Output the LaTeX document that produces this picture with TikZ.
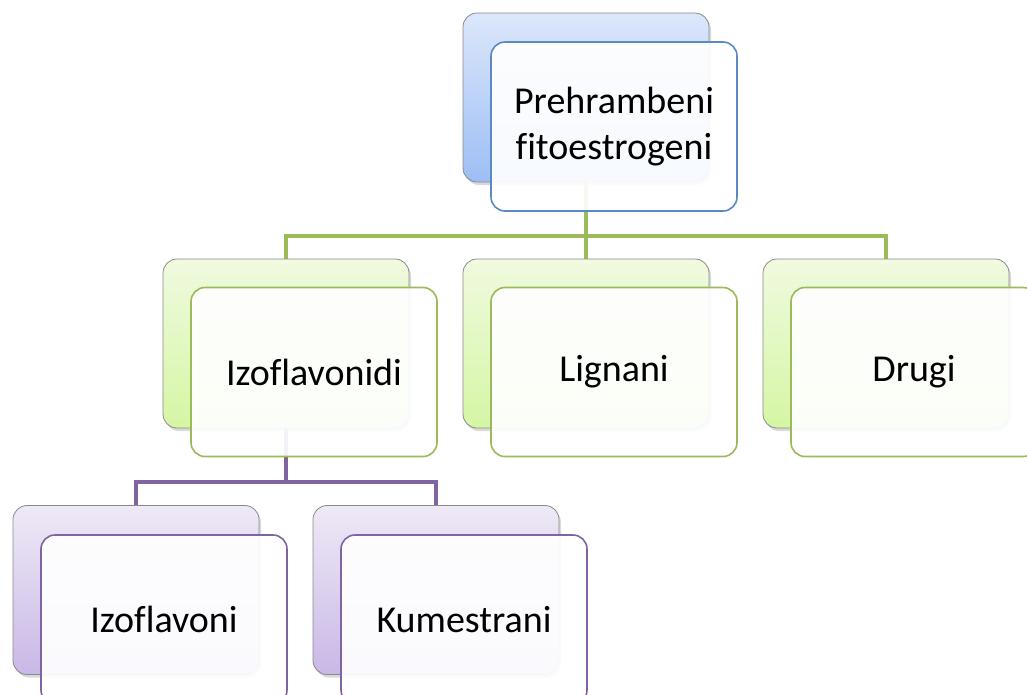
\documentclass[tikz,border=0pt]{standalone}
\usepackage{fontspec}
\setmainfont[Ligatures=NoCommon]{Carlito}
\usetikzlibrary{shadows}
\definecolor{bluetop}{HTML}{DCE7FB}
\definecolor{bluebot}{HTML}{9DBEF5}
\definecolor{bluedraw}{HTML}{5A8AC6}
\definecolor{greentop}{HTML}{F0FADF}
\definecolor{greenbot}{HTML}{D5F6A4}
\definecolor{greendraw}{HTML}{9BBB59}
\definecolor{purptop}{HTML}{EEE9F6}
\definecolor{purpbot}{HTML}{C9B8E6}
\definecolor{purpdraw}{HTML}{8064A2}
\definecolor{backdraw}{HTML}{8A8A8A}
\tikzset{
  backbox/.style={rectangle, rounded corners=14pt, minimum width=246pt, minimum height=169pt,
    inner sep=0pt, draw=backdraw, line width=0.8pt,
    drop shadow={shadow xshift=2pt, shadow yshift=-3pt, opacity=0.3}},
  frontbox/.style={rectangle, rounded corners=14pt, minimum width=246pt, minimum height=169pt,
    inner sep=0pt, fill=white, fill opacity=0.92, text opacity=1, line width=1.6pt,
    font=\fontsize{38}{46}\selectfont, align=center},
  bluebk/.style={backbox, top color=bluetop, bottom color=bluebot},
  greenbk/.style={backbox, top color=greentop, bottom color=greenbot},
  purpbk/.style={backbox, top color=purptop, bottom color=purpbot},
  bluefr/.style={frontbox, draw=bluedraw},
  greenfr/.style={frontbox, draw=greendraw},
  purpfr/.style={frontbox, draw=purpdraw},
  gline/.style={draw=greendraw, line width=4pt},
  pline/.style={draw=purpdraw, line width=4pt}
}
\begin{document}
\begin{tikzpicture}[x=1pt, y=-1pt]
\useasboundingbox (0,0) rectangle (1027,694);
\clip (0,0) rectangle (1027,694);
% coordinates for back boxes (used by connectors)
\path (586,97.5) coordinate (topc) (286,343.5) coordinate (izc) (586,343.5) coordinate (lic)
      (886,343.5) coordinate (drc) (136,590) coordinate (ifc) (436,590) coordinate (kuc);
% invisible placeholders for anchors
\node[minimum width=246pt, minimum height=169pt, inner sep=0pt] (topB) at (topc) {};
\node[minimum width=246pt, minimum height=169pt, inner sep=0pt] (izB) at (izc) {};
\node[minimum width=246pt, minimum height=169pt, inner sep=0pt] (liB) at (lic) {};
\node[minimum width=246pt, minimum height=169pt, inner sep=0pt] (drB) at (drc) {};
\node[minimum width=246pt, minimum height=169pt, inner sep=0pt] (ifB) at (ifc) {};
\node[minimum width=246pt, minimum height=169pt, inner sep=0pt] (kuB) at (kuc) {};
% connectors
\draw[gline] (topB.south) -- ++(0,54) -| (izB.north);
\draw[gline] (topB.south) -- ++(0,54) -| (drB.north);
\draw[gline] (topB.south) -- (liB.north);
\draw[pline] (izB.south) -- ++(0,54) -| (ifB.north);
\draw[pline] (izB.south) -- ++(0,54) -| (kuB.north);
% back boxes
\node[bluebk] (topBk) at (topc) {};
\node[greenbk] (izBk) at (izc) {};
\node[greenbk] (liBk) at (lic) {};
\node[greenbk] (drBk) at (drc) {};
\node[purpbk] (ifBk) at (ifc) {};
\node[purpbk] (kuBk) at (kuc) {};
% front boxes
\node[bluefr] (topF) at (614,126.5) {Prehrambeni\\fitoestrogeni};
\node[greenfr] (izF) at (314,372) {Izoflavonidi};
\node[greenfr] (liF) at (614,372) {Lignani};
\node[greenfr] (drF) at (914,372) {Drugi};
\node[purpfr] (ifF) at (164,619.5) {Izoflavoni};
\node[purpfr] (kuF) at (464,619.5) {Kumestrani};
\end{tikzpicture}
\end{document}
